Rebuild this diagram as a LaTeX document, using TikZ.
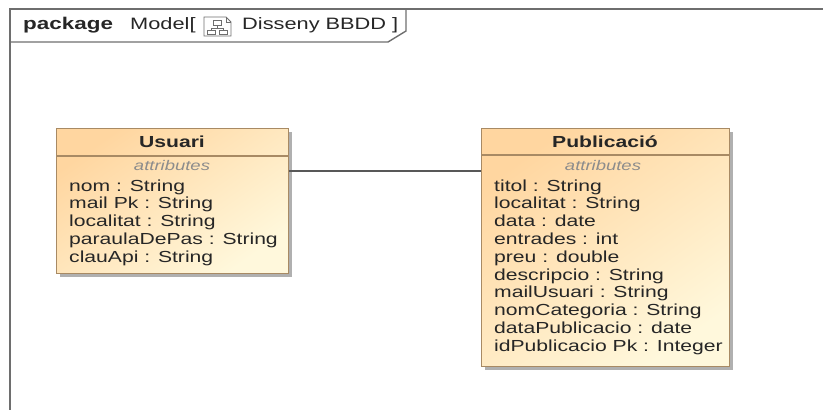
\documentclass[tikz,border=0pt]{standalone}
\usepackage{fontspec}
\setmainfont[FakeStretch=1.32]{Liberation Sans}
\usepackage{tikz}
\usetikzlibrary{positioning,calc,shadows}
\definecolor{umlFillTop}{HTML}{FFD6A0}
\definecolor{umlFillBottom}{HTML}{FFF8DC}
\definecolor{umlBorder}{HTML}{A88A64}
\definecolor{umlShadow}{HTML}{9C9C9C}
\definecolor{umlFrame}{HTML}{6E6E6E}
\definecolor{umlText}{HTML}{262626}
\definecolor{umlNote}{HTML}{8C8C8C}

\begin{document}
\begin{tikzpicture}[x=1pt,y=-1pt]
    \tikzset{
      cbox/.style={draw=umlBorder, line width=1.3pt, inner sep=0pt, anchor=north west,
        top color=umlFillTop, bottom color=umlFillBottom, shading angle=35,
        drop shadow={shadow xshift=3.5pt, shadow yshift=-3.5pt, fill=umlShadow, opacity=0.8}},
      csep/.style={draw=umlBorder, line width=1.3pt},
      ctitle/.style={font=\fontsize{16}{18}\selectfont\bfseries, text=umlText, anchor=base, inner sep=0pt},
      cnote/.style={font=\fontsize{14}{16}\selectfont\itshape, text=umlNote, anchor=base, inner sep=0pt},
      cattr/.style={font=\fontsize{16}{18}\selectfont, text=umlText, anchor=base west, inner sep=0pt},
      ptext/.style={font=\fontsize{16.5}{18}\selectfont, text=umlText, anchor=base west, inner sep=0pt},
      frame/.style={draw=umlFrame, line width=1.4pt},
      link/.style={draw=umlFrame!80!black, line width=1.4pt}
    }
    \useasboundingbox (0,0) rectangle (823,410);

    % Package frame
    \draw[frame] (10,410) -- (10,9) -- (823,9);
    \draw[frame] (10,42) -- (388,42) -- (406,31) -- (406,9);
    \node[ptext, font=\fontsize{17}{18}\selectfont\bfseries] (pkg) at (23,29) {package};
    \node[ptext] (pkgkind) at (130,29) {Model[};
    \node[ptext] (pkgname) at (242,29) {Disseny BBDD ]};

    % Diagram icon
    \draw[umlFrame, line width=0.9pt] (204,17) -- (226,17) -- (231,22) -- (231,36) -- (204,36) -- cycle;
    \draw[umlFrame, line width=0.9pt] (226,17) -- (226,22) -- (231,22);
    \draw[umlFrame, line width=0.9pt] (213,20) rectangle (221,25);
    \draw[umlFrame, line width=0.9pt] (217,25) -- (217,28) (211,28) -- (223,28) (211,28) -- (211,30) (223,28) -- (223,30);
    \draw[umlFrame, line width=0.9pt] (207,30) rectangle (215,34);
    \draw[umlFrame, line width=0.9pt] (219,30) rectangle (227,34);

    % Usuari
    \node[cbox, minimum width=232pt, minimum height=145pt] (usuari) at (56,128) {};
    \draw[csep] ([yshift=-28pt]usuari.north west) -- ([yshift=-28pt]usuari.north east);
    \node[ctitle] (usuariT) at (172,147) {Usuari};
    \node[cnote] (usuariA) at (172,170) {attributes};
    \foreach \lab [count=\i] in {nom : String, mail Pk : String, localitat : String,
        paraulaDePas : String, clauApi : String} {
      \node[cattr] (usuari-\i) at (69,173.3+17.8*\i) {\lab};
    }

    % Publicacio
    \node[cbox, minimum width=248pt, minimum height=238pt] (publicacio) at (481,128) {};
    \draw[csep] ([yshift=-27pt]publicacio.north west) -- ([yshift=-27pt]publicacio.north east);
    \node[ctitle] (publicacioT) at (605,147) {Publicació};
    \node[cnote] (publicacioA) at (603,170) {attributes};
    \foreach \lab [count=\i] in {titol : String, localitat : String, data : date, entrades : int,
        preu : double, descripcio : String, mailUsuari : String, nomCategoria : String,
        dataPublicacio : date, idPublicacio Pk : Integer} {
      \node[cattr] (publicacio-\i) at (494,173.3+17.8*\i) {\lab};
    }

    % Association
    \coordinate (assoc) at (0,171);
    \draw[link] (usuari.east |- assoc) -- (publicacio.west |- assoc);
\end{tikzpicture}
\end{document}
